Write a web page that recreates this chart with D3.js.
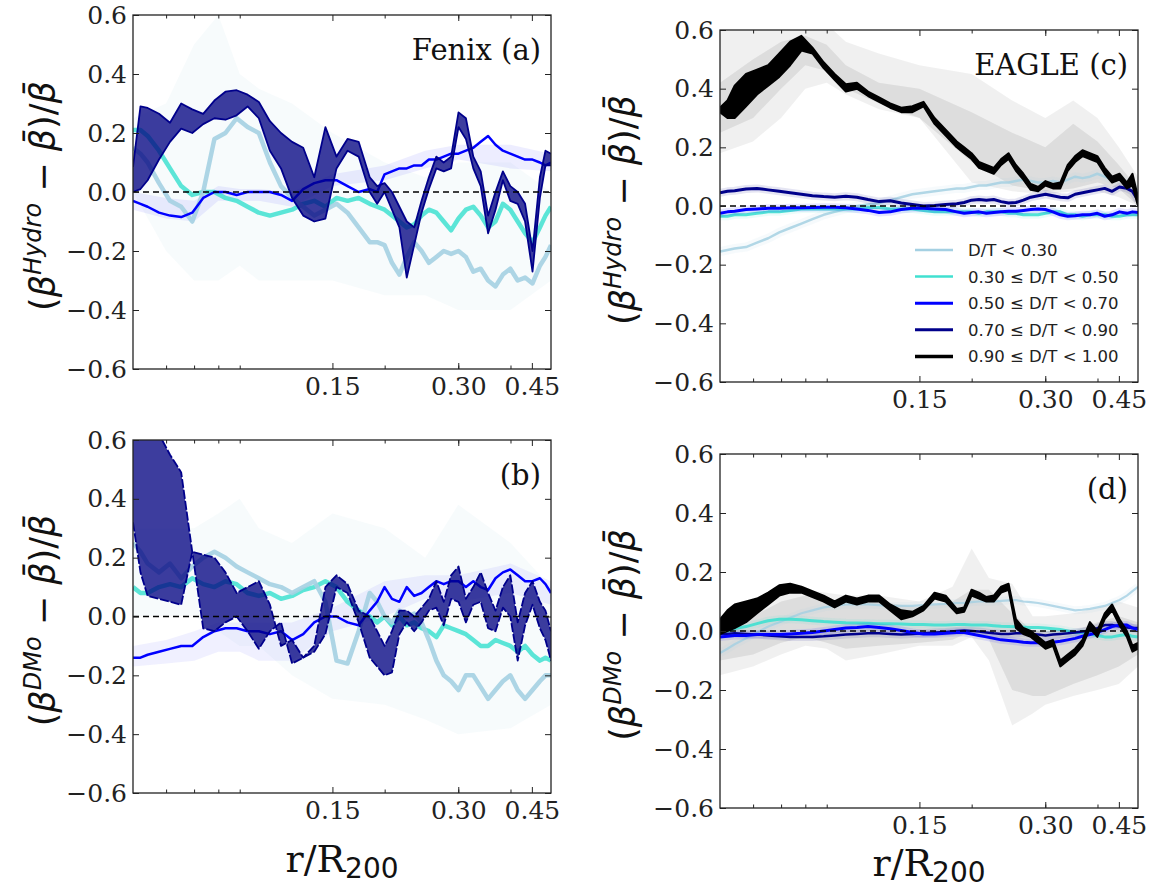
<!DOCTYPE html>
<html lang="en">
<head>
<meta charset="utf-8">
<script src="https://d3js.org/d3.v7.min.js"></script>
<title>Anisotropy residuals by D/T</title>
<style>body{margin:0;background:#fff;}</style>
</head>
<body>
<script>

// r/R200 sampling used for every median curve
var rGrid = [0.0500,0.0521,0.0542,0.0577,0.0613,0.0652,0.0693,0.0736,0.0783,0.0832,0.0885,0.0940,
  0.1000,0.1063,0.1130,0.1201,0.1277,0.1357,0.1443,0.1534,0.1630,0.1733,0.1842,0.1919,0.1999,0.2082,
  0.2169,0.2259,0.2353,0.2451,0.2552,0.2659,0.2769,0.2884,0.3004,0.3129,0.3259,0.3395,0.3536,0.3683,
  0.3836,0.3996,0.4162,0.4335,0.4516,0.4703,0.4850,0.5000];
// coarser sampling for the faint scatter bands
var bandGrid = [0.05,0.06,0.07,0.08,0.09,0.1,0.12,0.15,0.2,0.25,0.3,0.4,0.5];
var cGrayGrid = [0.05,0.06,0.07,0.08,0.09,0.1,0.12,0.15,0.2,0.25,0.3,0.35,0.4,0.45,0.5];
var dGrayGrid = [0.05,0.06,0.07,0.08,0.09,0.1,0.12,0.15,0.18,0.2,0.22,0.25,0.28,0.3,0.35,0.4,0.45,0.5];

var legendLabels = ["D/T < 0.30","0.30 \u2264 D/T < 0.50","0.50 \u2264 D/T < 0.70","0.70 \u2264 D/T < 0.90","0.90 \u2264 D/T < 1.00"];
var yTicks = [-0.6,-0.4,-0.2,0.0,0.2,0.4,0.6];
var xMajor = [0.15,0.30,0.45];
var xMinor = [0.06,0.07,0.08,0.09,0.2,0.3,0.4];

// ---- panel (a) Fenix, Hydro
var aLightblue = [0.15,0.13,0.10,0.03,-0.03,-0.05,-0.10,0.0,0.18,0.20,0.25,0.22,0.20,0.10,0.02,-0.02,-0.05,-0.08,-0.06,-0.04,-0.07,-0.12,-0.17,-0.17,-0.18,-0.24,-0.28,-0.22,-0.17,-0.20,-0.24,-0.22,-0.20,-0.21,-0.20,-0.22,-0.27,-0.26,-0.30,-0.32,-0.28,-0.26,-0.30,-0.29,-0.31,-0.25,-0.22,-0.18];
var aTurquoise = [0.21,0.21,0.19,0.14,0.08,0.02,-0.01,0.0,0.0,-0.02,-0.03,-0.05,-0.07,-0.08,-0.07,-0.06,-0.04,-0.03,-0.05,-0.02,-0.03,-0.02,-0.04,-0.05,-0.06,-0.08,-0.10,-0.12,-0.11,-0.08,-0.06,-0.07,-0.10,-0.13,-0.09,-0.06,-0.05,-0.08,-0.12,-0.10,-0.04,-0.06,-0.10,-0.14,-0.17,-0.12,-0.08,-0.05];
var aBlue = [-0.03,-0.04,-0.05,-0.07,-0.08,-0.085,-0.07,-0.02,0.0,0.0,-0.01,0.0,0.0,0.0,-0.01,-0.03,0.01,0.03,0.04,0.04,0.02,0.0,0.01,0.0,0.06,0.07,0.08,0.08,0.09,0.09,0.11,0.11,0.12,0.13,0.13,0.14,0.15,0.17,0.19,0.16,0.14,0.13,0.12,0.11,0.11,0.10,0.09,0.10];
var aNavyHi = [0.085,0.29,0.285,0.265,0.235,0.30,0.28,0.265,0.31,0.34,0.345,0.33,0.305,0.24,0.20,0.17,0.15,0.05,0.22,0.12,0.18,0.17,0.05,0.02,0.03,0.0,-0.05,-0.10,-0.12,-0.03,0.05,0.12,0.10,0.12,0.27,0.25,0.12,0.07,-0.08,0.0,0.07,0.02,0.0,-0.04,-0.20,0.05,0.14,0.13];
var aNavyLo = [0.0,0.01,0.04,0.11,0.17,0.215,0.20,0.23,0.25,0.245,0.26,0.29,0.25,0.14,0.08,-0.02,-0.08,-0.10,-0.09,0.08,0.14,0.12,0.0,-0.04,0.0,-0.06,-0.12,-0.29,-0.18,-0.07,0.01,0.08,0.07,0.08,0.22,0.18,0.08,0.02,-0.14,-0.06,0.04,-0.03,-0.04,-0.10,-0.27,-0.02,0.09,0.09];
var aFaintHi = [0.25,0.3,0.5,0.6,0.4,0.35,0.3,0.2,0.1,0.05,0.1,0.1,0.0];
var aFaintLo = [0.0,-0.2,-0.3,-0.3,-0.25,-0.3,-0.3,-0.3,-0.35,-0.35,-0.4,-0.4,-0.3];
var aBlueBandHi = [0.0,-0.02,-0.03,0.02,0.01,0.01,0.0,0.06,0.09,0.14,0.16,0.16,0.13];
var aBlueBandLo = [-0.06,-0.09,-0.1,-0.03,-0.03,-0.03,-0.05,0.02,0.04,0.08,0.11,0.08,0.07];

// ---- panel (b) Fenix, DMo
var bLightblue = [0.25,0.22,0.18,0.15,0.18,0.13,0.17,0.20,0.22,0.20,0.17,0.15,0.13,0.11,0.10,0.08,0.10,0.12,0.05,-0.15,-0.16,-0.05,0.08,0.05,0.0,-0.02,0.02,0.0,0.01,-0.02,-0.08,-0.15,-0.20,-0.22,-0.25,-0.20,-0.20,-0.24,-0.28,-0.25,-0.22,-0.20,-0.25,-0.28,-0.25,-0.22,-0.20,-0.20];
var bTurquoise = [0.10,0.08,0.08,0.10,0.11,0.10,0.13,0.11,0.10,0.12,0.11,0.08,0.07,0.08,0.06,0.07,0.09,0.10,0.12,0.10,0.05,0.02,0.0,-0.02,0.0,-0.03,0.0,-0.03,-0.02,-0.04,-0.05,-0.07,-0.03,-0.04,-0.05,-0.06,-0.08,-0.10,-0.10,-0.08,-0.09,-0.10,-0.12,-0.10,-0.13,-0.15,-0.14,-0.15];
var bBlue = [-0.14,-0.14,-0.13,-0.12,-0.11,-0.10,-0.10,-0.07,-0.05,-0.04,-0.04,-0.05,-0.05,-0.06,-0.05,-0.08,-0.06,-0.02,0.0,0.0,-0.02,-0.03,0.02,0.05,0.10,0.06,0.05,0.10,0.07,0.08,0.10,0.12,0.11,0.12,0.12,0.10,0.12,0.10,0.09,0.13,0.15,0.16,0.14,0.12,0.12,0.13,0.11,0.08];
var bNavyA = [0.62,0.62,0.62,0.62,0.55,0.49,0.22,-0.04,-0.05,-0.02,0.0,-0.05,-0.11,-0.05,-0.02,-0.16,-0.14,-0.12,-0.06,0.10,0.08,-0.02,-0.14,-0.17,-0.20,-0.19,-0.06,-0.02,-0.05,-0.02,0.02,0.03,-0.03,0.06,0.05,-0.02,0.04,0.05,-0.04,-0.05,0.03,0.0,-0.15,-0.03,0.04,-0.04,-0.08,-0.15];
var bNavyB = [0.32,0.15,0.07,0.06,0.05,0.04,0.22,0.21,0.20,0.15,0.08,0.10,0.12,0.04,-0.10,-0.08,-0.14,-0.10,0.10,0.14,0.11,0.02,0.0,-0.05,-0.10,-0.05,0.02,0.02,0.0,0.03,0.06,0.12,0.05,0.14,0.17,0.06,0.10,0.15,0.08,0.02,0.10,0.14,-0.02,0.08,0.12,0.05,0.02,-0.05];
var bFaintHi = [0.3,0.3,0.3,0.35,0.4,0.3,0.25,0.35,0.3,0.2,0.38,0.25,0.1];
var bFaintLo = [0.0,0.0,0.0,-0.05,-0.1,-0.1,-0.2,-0.28,-0.3,-0.35,-0.4,-0.38,-0.3];
var bBlueBandHi = [-0.1,-0.08,-0.05,-0.02,-0.02,-0.02,-0.02,0.03,0.12,0.14,0.14,0.18,0.12];
var bBlueBandLo = [-0.17,-0.16,-0.15,-0.12,-0.12,-0.15,-0.15,-0.05,0.0,0.06,0.05,0.08,0.04];

// ---- panel (c) EAGLE, Hydro
var cLightblue = [-0.155,-0.15,-0.145,-0.14,-0.125,-0.11,-0.09,-0.075,-0.06,-0.045,-0.03,-0.02,-0.01,0.0,0.005,0.01,0.02,0.03,0.04,0.045,0.05,0.055,0.06,0.06,0.065,0.07,0.07,0.075,0.08,0.08,0.085,0.09,0.085,0.08,0.08,0.085,0.08,0.09,0.10,0.095,0.10,0.11,0.10,0.09,0.09,0.08,0.07,0.05];
var cTurquoise = [-0.035,-0.035,-0.03,-0.03,-0.025,-0.02,-0.02,-0.015,-0.01,-0.01,-0.01,-0.01,-0.01,-0.01,-0.005,-0.005,-0.01,-0.01,-0.01,-0.015,-0.02,-0.02,-0.02,-0.02,-0.02,-0.025,-0.02,-0.02,-0.02,-0.025,-0.025,-0.03,-0.03,-0.03,-0.025,-0.02,-0.02,-0.03,-0.03,-0.035,-0.03,-0.03,-0.03,-0.035,-0.035,-0.03,-0.03,-0.03];
var cBlue = [-0.025,-0.02,-0.018,-0.012,-0.01,-0.008,-0.008,-0.006,-0.006,-0.005,-0.004,-0.004,-0.006,-0.01,-0.015,-0.022,-0.02,-0.012,-0.008,-0.008,-0.01,-0.012,-0.02,-0.025,-0.022,-0.02,-0.025,-0.022,-0.02,-0.018,-0.018,-0.015,-0.012,-0.01,-0.012,-0.02,-0.03,-0.035,-0.033,-0.03,-0.03,-0.025,-0.035,-0.03,-0.02,-0.025,-0.02,-0.022];
var cNavy = [0.045,0.05,0.052,0.058,0.06,0.055,0.05,0.045,0.04,0.035,0.032,0.03,0.033,0.03,0.022,0.015,0.018,0.01,0.005,0.0,0.002,0.005,0.008,0.012,0.02,0.022,0.02,0.022,0.015,0.01,0.012,0.02,0.03,0.035,0.04,0.035,0.03,0.028,0.04,0.045,0.05,0.055,0.06,0.05,0.065,0.06,0.05,0.02];
var cBlackLo = [0.32,0.30,0.30,0.34,0.38,0.41,0.44,0.48,0.53,0.52,0.47,0.43,0.39,0.40,0.375,0.355,0.335,0.32,0.32,0.34,0.28,0.24,0.20,0.18,0.16,0.13,0.12,0.11,0.14,0.16,0.12,0.09,0.055,0.05,0.07,0.06,0.06,0.12,0.15,0.17,0.16,0.15,0.11,0.08,0.09,0.06,0.07,0.0];
var cBlackHi = [0.335,0.36,0.41,0.45,0.465,0.48,0.52,0.56,0.58,0.54,0.49,0.45,0.415,0.42,0.39,0.37,0.35,0.335,0.34,0.355,0.30,0.26,0.22,0.20,0.18,0.15,0.14,0.13,0.16,0.18,0.14,0.11,0.075,0.065,0.085,0.075,0.08,0.14,0.17,0.19,0.18,0.17,0.13,0.10,0.11,0.08,0.11,0.03];
var cOuterHi = [0.6,0.6,0.6,0.62,0.62,0.56,0.52,0.48,0.45,0.36,0.30,0.36,0.30,0.2,0.1];
var cOuterLo = [0.18,0.22,0.3,0.4,0.42,0.38,0.33,0.3,0.08,0.05,0.04,0.05,0.05,0.03,0.0];
var cInnerHi = [0.42,0.5,0.56,0.58,0.55,0.48,0.42,0.4,0.32,0.25,0.2,0.28,0.22,0.14,0.06];
var cInnerLo = [0.25,0.3,0.4,0.48,0.46,0.4,0.35,0.3,0.15,0.07,0.05,0.06,0.08,0.06,0.0];

// ---- panel (d) EAGLE, DMo
var dLightblue = [-0.075,-0.06,-0.045,-0.025,-0.005,0.015,0.03,0.045,0.06,0.07,0.08,0.085,0.09,0.09,0.09,0.088,0.085,0.085,0.085,0.088,0.09,0.092,0.095,0.095,0.098,0.1,0.1,0.1,0.102,0.104,0.105,0.1,0.098,0.095,0.09,0.085,0.08,0.075,0.07,0.072,0.075,0.08,0.085,0.095,0.105,0.12,0.135,0.15];
var dTurquoise = [-0.005,0.0,0.008,0.015,0.025,0.035,0.04,0.04,0.038,0.035,0.032,0.03,0.028,0.027,0.026,0.025,0.025,0.024,0.022,0.022,0.02,0.02,0.022,0.022,0.02,0.02,0.02,0.018,0.016,0.015,0.014,0.013,0.012,0.012,0.01,0.008,0.005,0.0,-0.005,-0.005,-0.01,-0.015,-0.02,-0.02,-0.015,-0.012,-0.018,-0.02];
var dBlue = [-0.02,-0.018,-0.015,-0.015,-0.012,-0.012,-0.012,-0.01,-0.008,-0.005,0.0,0.005,0.01,0.012,0.015,0.012,0.008,0.002,-0.005,-0.01,-0.01,-0.008,-0.005,-0.005,-0.01,-0.015,-0.02,-0.025,-0.03,-0.032,-0.035,-0.038,-0.04,-0.04,-0.042,-0.038,-0.035,-0.03,-0.025,-0.018,-0.012,-0.005,0.005,0.015,0.02,0.02,0.01,0.005];
var dNavy = [-0.01,-0.01,-0.008,-0.01,-0.012,-0.015,-0.018,-0.02,-0.02,-0.02,-0.018,-0.015,-0.012,-0.01,-0.008,-0.008,-0.01,-0.012,-0.01,-0.008,-0.005,-0.003,0.0,0.002,0.0,-0.002,-0.005,-0.008,-0.01,-0.01,-0.008,-0.008,-0.01,-0.012,-0.015,-0.012,-0.01,-0.008,-0.005,-0.002,0.0,0.01,0.02,0.02,0.015,0.012,0.01,0.01];
var dBlackLo = [-0.01,0.0,0.01,0.03,0.06,0.09,0.12,0.13,0.13,0.115,0.10,0.08,0.10,0.09,0.10,0.10,0.07,0.04,0.05,0.07,0.11,0.10,0.06,0.065,0.12,0.11,0.10,0.10,0.13,0.14,0.01,-0.01,-0.02,-0.04,-0.06,-0.05,-0.12,-0.10,-0.08,-0.05,0.01,-0.02,0.04,0.07,0.02,-0.02,-0.07,-0.06];
var dBlackHi = [0.04,0.07,0.09,0.10,0.11,0.13,0.155,0.16,0.15,0.135,0.12,0.10,0.12,0.11,0.12,0.12,0.09,0.07,0.065,0.085,0.13,0.12,0.075,0.08,0.14,0.13,0.115,0.12,0.15,0.16,0.04,0.01,0.0,-0.02,-0.04,-0.03,-0.10,-0.08,-0.06,-0.03,0.03,0.0,0.06,0.09,0.04,0.0,-0.05,-0.04];
var dOuterHi = [0.02,0.08,0.12,0.14,0.13,0.12,0.12,0.10,0.15,0.28,0.18,0.16,0.05,0.05,0.06,0.08,0.10,0.08];
var dOuterLo = [-0.15,-0.12,-0.08,-0.05,-0.06,-0.10,-0.08,-0.05,-0.05,-0.02,-0.10,-0.32,-0.28,-0.25,-0.22,-0.20,-0.18,-0.12];
var dInnerHi = [0.0,0.05,0.10,0.12,0.10,0.09,0.10,0.08,0.10,0.14,0.14,0.06,0.0,0.0,0.0,0.03,0.05,0.03];
var dInnerLo = [-0.10,-0.08,-0.04,-0.02,-0.04,-0.06,-0.05,-0.04,-0.03,0.0,-0.03,-0.20,-0.22,-0.22,-0.18,-0.15,-0.12,-0.08];

var colLight = "#a4d0e2", colTurq = "#40e0d0", colBlue = "#0000ff", colNavy = "#00008b", colBlack = "#000000";

var svg = d3.select("body").append("svg")
  .attr("width", 1155).attr("height", 892)
  .style("background", "#fff");

function band(r, lo, hi, fill, op) { return {type: "band", r: r, lo: lo, hi: hi, fill: fill, op: op}; }
function line(r, v, color, w, op, halo, dash) { return {type: "line", r: r, v: v, color: color, w: w, op: op, halo: halo, dash: dash}; }

var panels = [
  {id: "a", x0: 133, x1: 551, y0: 15, y1: 369, title: "Fenix (a)", sup: "Hydro", ylabX: 55, xlab: false,
   layers: [
     band(bandGrid, aFaintLo, aFaintHi, "#dcecf3", 0.22),
     band(bandGrid, aBlueBandLo, aBlueBandHi, "#8080ff", 0.14),
     line(rGrid, aTurquoise, colTurq, 4.5, 0.85),
     line(rGrid, aLightblue, colLight, 4.5, 0.9),
     line(rGrid, aBlue, colBlue, 2.5, 1),
     band(rGrid, aNavyLo, aNavyHi, "#000080", 0.76),
     line(rGrid, aNavyLo, colNavy, 1.8, 1),
     line(rGrid, aNavyHi, colNavy, 1.8, 1)
   ]},
  {id: "b", x0: 133, x1: 551, y0: 440, y1: 793, title: "(b)", sup: "DMo", ylabX: 55, xlab: true, xlabY: 872,
   layers: [
     band(bandGrid, bFaintLo, bFaintHi, "#dcecf3", 0.22),
     band(bandGrid, bBlueBandLo, bBlueBandHi, "#8080ff", 0.12),
     line(rGrid, bTurquoise, colTurq, 4.5, 0.85),
     line(rGrid, bLightblue, colLight, 4.5, 0.9),
     line(rGrid, bBlue, colBlue, 2.5, 1),
     band(rGrid, bNavyA, bNavyB, "#000080", 0.76),
     line(rGrid, bNavyA, colNavy, 1.8, 1, 0, "9,2"),
     line(rGrid, bNavyB, colNavy, 1.8, 1, 0, "9,2")
   ]},
  {id: "c", x0: 720, x1: 1138, y0: 30, y1: 382, title: "EAGLE (c)", sup: "Hydro", ylabX: 635, xlab: false, legend: true,
   layers: [
     band(cGrayGrid, cOuterLo, cOuterHi, "#000", 0.06),
     band(cGrayGrid, cInnerLo, cInnerHi, "#000", 0.08),
     line(rGrid, cLightblue, colLight, 2.5, 0.85, 9),
     line(rGrid, cTurquoise, colTurq, 3, 0.9, 8),
     line(rGrid, cBlue, colBlue, 3, 1, 8),
     line(rGrid, cNavy, colNavy, 3, 1, 8),
     band(rGrid, cBlackLo, cBlackHi, colBlack, 1),
     line(rGrid, cBlackLo, colBlack, 2, 1),
     line(rGrid, cBlackHi, colBlack, 2, 1)
   ]},
  {id: "d", x0: 720, x1: 1138, y0: 454, y1: 808, title: "(d)", sup: "DMo", ylabX: 635, xlab: true, xlabY: 876,
   layers: [
     band(dGrayGrid, dOuterLo, dOuterHi, "#000", 0.06),
     band(dGrayGrid, dInnerLo, dInnerHi, "#000", 0.08),
     line(rGrid, dLightblue, colLight, 2.2, 0.8, 8),
     line(rGrid, dTurquoise, colTurq, 3, 0.9, 8),
     line(rGrid, dNavy, colNavy, 2.5, 1, 8),
     line(rGrid, dBlue, colBlue, 3, 1, 8),
     band(rGrid, dBlackLo, dBlackHi, colBlack, 1),
     line(rGrid, dBlackLo, colBlack, 2, 1),
     line(rGrid, dBlackHi, colBlack, 2, 1)
   ]}
];

var fmtY = d3.format(".1f"), fmtX = d3.format(".2f");

panels.forEach(function(p) {
  var x = d3.scaleLog().domain([0.05, 0.5]).range([p.x0, p.x1]);
  var y = d3.scaleLinear().domain([-0.6, 0.6]).range([p.y1, p.y0]);
  var g = svg.append("g").attr("id", "panel-" + p.id);

  g.append("clipPath").attr("id", "clip-" + p.id)
    .append("rect").attr("x", p.x0).attr("y", p.y0)
    .attr("width", p.x1 - p.x0).attr("height", p.y1 - p.y0);

  var plot = g.append("g").attr("clip-path", "url(#clip-" + p.id + ")");

  p.layers.forEach(function(L) {
    var idx = d3.range(L.r.length);
    if (L.type == "band") {
      var area = d3.area()
        .x(function(i) { return x(L.r[i]); })
        .y0(function(i) { return y(L.lo[i]); })
        .y1(function(i) { return y(L.hi[i]); });
      plot.append("path").attr("d", area(idx))
        .attr("fill", L.fill).attr("fill-opacity", L.op).attr("stroke", "none");
    } else {
      var ln = d3.line()
        .x(function(i) { return x(L.r[i]); })
        .y(function(i) { return y(L.v[i]); });
      if (L.halo) {
        plot.append("path").attr("d", ln(idx)).attr("fill", "none")
          .attr("stroke", L.color).attr("stroke-opacity", 0.1)
          .attr("stroke-width", L.halo).attr("stroke-linejoin", "round");
      }
      plot.append("path").attr("d", ln(idx)).attr("fill", "none")
        .attr("stroke", L.color).attr("stroke-opacity", L.op)
        .attr("stroke-width", L.w).attr("stroke-linejoin", "round")
        .attr("stroke-dasharray", L.dash || null);
    }
  });

  // zero reference
  plot.append("line")
    .attr("x1", p.x0).attr("x2", p.x1).attr("y1", y(0)).attr("y2", y(0))
    .attr("stroke", "#000").attr("stroke-width", 1.5).attr("stroke-dasharray", "6,4");

  // axes, ticks pointing inwards on all four sides
  function clean(sel) {
    sel.select(".domain").remove();
    sel.selectAll("line").attr("stroke", "#222").attr("stroke-width", 1);
    sel.selectAll("text").attr("font-family", "'DejaVu Serif', serif")
      .attr("font-size", 25).attr("fill", "#222");
  }
  g.append("g").attr("transform", "translate(0," + p.y1 + ")")
    .call(d3.axisBottom(x).tickValues(xMajor).tickSize(-6).tickPadding(8).tickFormat(fmtX)).call(clean);
  g.append("g").attr("transform", "translate(0," + p.y1 + ")")
    .call(d3.axisBottom(x).tickValues(xMinor).tickSize(-3.5).tickFormat("")).call(clean);
  g.append("g").attr("transform", "translate(0," + p.y0 + ")")
    .call(d3.axisTop(x).tickValues(xMajor).tickSize(-6).tickFormat("")).call(clean);
  g.append("g").attr("transform", "translate(0," + p.y0 + ")")
    .call(d3.axisTop(x).tickValues(xMinor).tickSize(-3.5).tickFormat("")).call(clean);
  g.append("g").attr("transform", "translate(" + p.x0 + ",0)")
    .call(d3.axisLeft(y).tickValues(yTicks).tickSize(-6).tickPadding(6).tickFormat(fmtY)).call(clean);
  g.append("g").attr("transform", "translate(" + p.x1 + ",0)")
    .call(d3.axisRight(y).tickValues(yTicks).tickSize(-6).tickFormat("")).call(clean);

  g.append("rect").attr("x", p.x0).attr("y", p.y0)
    .attr("width", p.x1 - p.x0).attr("height", p.y1 - p.y0)
    .attr("fill", "none").attr("stroke", "#222").attr("stroke-width", 1.3);

  // panel tag
  g.append("text").attr("x", p.x1 - 10).attr("y", p.y0 + 45)
    .attr("text-anchor", "end").attr("font-family", "'DejaVu Serif', serif")
    .attr("font-size", 29).attr("fill", "#111").text(p.title);

  // y label: (beta^X - beta_bar)/beta_bar
  var cy = (p.y0 + p.y1) / 2 + 4;
  var yl = g.append("text")
    .attr("transform", "translate(" + p.ylabX + "," + cy + ") rotate(-90)")
    .attr("text-anchor", "middle").attr("font-family", "'DejaVu Sans', sans-serif")
    .attr("font-size", 35).attr("fill", "#111");
  yl.append("tspan").text("(");
  yl.append("tspan").attr("font-style", "italic").text("\u03b2");
  yl.append("tspan").attr("font-style", "italic").attr("font-size", 24).attr("dy", -14).text(p.sup);
  yl.append("tspan").attr("dy", 14).text(" \u2212 ");
  yl.append("tspan").attr("font-style", "italic").text("\u03b2\u0304");
  yl.append("tspan").text(")/");
  yl.append("tspan").attr("font-style", "italic").text("\u03b2\u0304");

  if (p.xlab) {
    var xl = g.append("text").attr("x", (p.x0 + p.x1) / 2).attr("y", p.xlabY)
      .attr("text-anchor", "middle").attr("fill", "#111");
    xl.append("tspan").attr("font-family", "'DejaVu Serif', serif").attr("font-size", 38).text("r/R");
    xl.append("tspan").attr("font-family", "'DejaVu Sans', sans-serif").attr("font-size", 28).attr("dy", 6).text("200");
  }

  if (p.legend) {
    var legColors = [colLight, colTurq, colBlue, colNavy, colBlack];
    var legWidths = [2.5, 2.5, 3, 3, 3.5];
    var lg = g.append("g");
    legendLabels.forEach(function(t, i) {
      var yy = 250 + i * 26.6;
      lg.append("line").attr("x1", 915).attr("x2", 953).attr("y1", yy).attr("y2", yy)
        .attr("stroke", legColors[i]).attr("stroke-width", legWidths[i]);
      lg.append("text").attr("x", 968).attr("y", yy + 6)
        .attr("font-family", "'DejaVu Sans', sans-serif").attr("font-size", 16.5)
        .attr("fill", "#222").text(t);
    });
  }
});
</script>
</body>
</html>
